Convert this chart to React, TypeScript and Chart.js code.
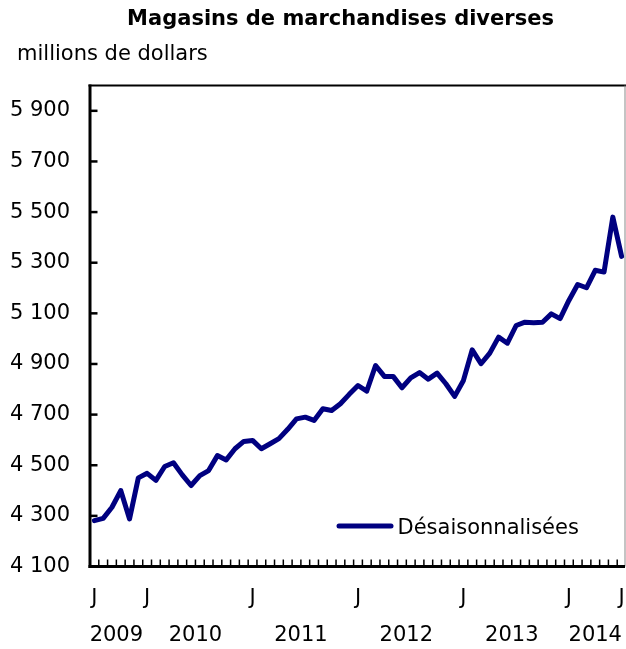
import { useEffect, useRef } from "react";
import { Chart, registerables } from "chart.js";

Chart.register(...registerables);

// ---- data ----
const chartTitle = "Magasins de marchandises diverses";
const unitLabel = "millions de dollars";
const seriesLabel = "Désaisonnalisées";

const categories = [
  "2009-07", "2009-08", "2009-09", "2009-10", "2009-11", "2009-12",
  "2010-01", "2010-02", "2010-03", "2010-04", "2010-05", "2010-06",
  "2010-07", "2010-08", "2010-09", "2010-10", "2010-11", "2010-12",
  "2011-01", "2011-02", "2011-03", "2011-04", "2011-05", "2011-06",
  "2011-07", "2011-08", "2011-09", "2011-10", "2011-11", "2011-12",
  "2012-01", "2012-02", "2012-03", "2012-04", "2012-05", "2012-06",
  "2012-07", "2012-08", "2012-09", "2012-10", "2012-11", "2012-12",
  "2013-01", "2013-02", "2013-03", "2013-04", "2013-05", "2013-06",
  "2013-07", "2013-08", "2013-09", "2013-10", "2013-11", "2013-12",
  "2014-01", "2014-02", "2014-03", "2014-04", "2014-05", "2014-06",
  "2014-07",
];

const seasonallyAdjusted = [
  4281, 4290, 4334, 4400, 4288, 4450,
  4468, 4440, 4495, 4510, 4462, 4420,
  4459, 4479, 4538, 4521, 4565, 4594,
  4598, 4565, 4585, 4605, 4642, 4683,
  4690, 4677, 4723, 4716, 4743, 4780,
  4815, 4793, 4894, 4851, 4851, 4806,
  4845, 4866, 4840, 4864, 4822, 4772,
  4835, 4956, 4901, 4943, 5006, 4982,
  5052, 5065, 5063, 5065, 5098, 5079,
  5151, 5214, 5201, 5270, 5263, 5480,
  5325,
];

const yTicks = [4100, 4300, 4500, 4700, 4900, 5100, 5300, 5500, 5700, 5900];
const yMin = 4100;
const yMax = 6000;

const monthInitials = ["J", "F", "M", "A", "M", "J", "J", "A", "S", "O", "N", "D"];
const labeledMonths = ["2009-07", "2010-01", "2011-01", "2012-01", "2013-01", "2014-01", "2014-07"];
const years = ["2009", "2010", "2011", "2012", "2013", "2014"];

// ---- style ----
const FONT = "'DejaVu Sans', Verdana, sans-serif";
const NAVY = "#000080";
const W = 626;
const H = 649;

const fmtThousands = (v: number) => String(v).replace(/\B(?=(\d{3})+(?!\d))/g, " ");

export default function App() {
  const canvasRef = useRef<HTMLCanvasElement | null>(null);

  useEffect(() => {
    document.body.style.margin = "0";
    const canvas = canvasRef.current;
    if (!canvas) return;

    const yearCenters = years.map((y) => {
      const idx = categories.map((c, i) => (c.startsWith(y) ? i : -1)).filter((i) => i >= 0);
      return (idx[0] + idx[idx.length - 1]) / 2;
    });

    const decorPlugin = {
      id: "decor",
      afterDraw(chart: any) {
        const { ctx, chartArea: a, scales } = chart;
        const xs = scales.x;
        const ys = scales.y;
        ctx.save();

        // titles
        ctx.fillStyle = "#000";
        ctx.textBaseline = "alphabetic";
        ctx.font = `bold 21px ${FONT}`;
        ctx.textAlign = "center";
        ctx.fillText(chartTitle, 340.5, 25);
        ctx.font = `21px ${FONT}`;
        ctx.textAlign = "left";
        ctx.fillText(unitLabel, 17, 60);

        // frame: top (black) & right (gray)
        ctx.fillStyle = "#000";
        ctx.fillRect(a.left - 1.5, a.top - 1, a.right - a.left + 1.5, 2);
        ctx.fillStyle = "#8a8a8a";
        ctx.fillRect(a.right - 1.5, a.top, 1, a.bottom - a.top);

        // left & bottom axes (thick)
        ctx.fillStyle = "#000";
        ctx.fillRect(a.left - 1.5, a.top - 1, 3, a.bottom - a.top + 2.5);
        ctx.fillRect(a.left - 1.5, a.bottom - 1.5, a.right - a.left + 0.5, 3);

        // y ticks pointing inward
        ctx.strokeStyle = "#000";
        ctx.lineWidth = 2.5;
        yTicks.forEach((v) => {
          const py = ys.getPixelForValue(v);
          ctx.beginPath();
          ctx.moveTo(a.left, py);
          ctx.lineTo(a.left + 7.5, py);
          ctx.stroke();
        });

        // monthly ticks at month boundaries, pointing up
        ctx.lineWidth = 1.5;
        for (let i = 0; i < categories.length - 1; i++) {
          const px = (xs.getPixelForValue(i) + xs.getPixelForValue(i + 1)) / 2;
          ctx.beginPath();
          ctx.moveTo(px, a.bottom);
          ctx.lineTo(px, a.bottom - 7);
          ctx.stroke();
        }

        // legend inside plot area
        const ds = chart.data.datasets[0];
        const lx0 = a.right - 289;
        const lx1 = a.right - 233;
        const ly = a.bottom - 40.5;
        ctx.strokeStyle = ds.borderColor;
        ctx.lineWidth = 5;
        ctx.lineCap = "round";
        ctx.beginPath();
        ctx.moveTo(lx0 + 2, ly);
        ctx.lineTo(lx1 - 2, ly);
        ctx.stroke();
        ctx.fillStyle = "#000";
        ctx.font = `21px ${FONT}`;
        ctx.textAlign = "left";
        ctx.textBaseline = "alphabetic";
        ctx.fillText(ds.label, lx1 + 4.5, ly + 7.5);

        ctx.restore();
      },
    };

    const tickFont = { family: FONT, size: 21 };

    const chart = new Chart(canvas, {
      type: "line",
      data: {
        labels: categories,
        datasets: [
          {
            label: seriesLabel,
            data: seasonallyAdjusted,
            borderColor: NAVY,
            backgroundColor: NAVY,
            borderWidth: 5,
            pointRadius: 0,
            tension: 0,
            borderJoinStyle: "round",
            borderCapStyle: "round",
            fill: false,
          },
        ],
      },
      options: {
        responsive: false,
        animation: false,
        layout: { padding: { top: 85.5, left: 0, right: 0, bottom: 0 } },
        plugins: {
          legend: { display: false },
          title: { display: false },
          tooltip: { enabled: false },
        },
        scales: {
          x: {
            type: "category",
            position: "bottom",
            offset: true,
            weight: 0,
            grid: { display: false, drawTicks: true, tickLength: 19 },
            border: { display: false },
            ticks: {
              autoSkip: false,
              maxRotation: 0,
              minRotation: 0,
              padding: 0,
              color: "#000",
              font: tickFont,
              callback: (_v: any, i: number) =>
                labeledMonths.includes(categories[i])
                  ? monthInitials[Number(categories[i].slice(5)) - 1]
                  : "",
            },
            afterFit: (s: any) => {
              s.height = 45;
            },
          },
          x2: {
            type: "linear",
            position: "bottom",
            weight: 1,
            min: -0.5,
            max: categories.length - 0.5,
            grid: { display: false, drawTicks: true, tickLength: 11 },
            border: { display: false },
            afterBuildTicks: (s: any) => {
              s.ticks = yearCenters.map((v) => ({ value: v }));
            },
            ticks: {
              autoSkip: false,
              maxRotation: 0,
              minRotation: 0,
              padding: 0,
              color: "#000",
              font: tickFont,
              callback: (v: any) => {
                const k = yearCenters.indexOf(Number(v));
                return k >= 0 ? years[k] : "";
              },
            },
            afterFit: (s: any) => {
              s.height = H - 566.5 - 45;
            },
          },
          y: {
            type: "linear",
            position: "left",
            min: yMin,
            max: yMax,
            grid: { display: false, drawTicks: false },
            border: { display: false },
            afterBuildTicks: (s: any) => {
              s.ticks = yTicks.map((v) => ({ value: v }));
            },
            ticks: {
              padding: 20,
              color: "#000",
              font: tickFont,
              callback: (v: any) => fmtThousands(Number(v)),
            },
            afterFit: (s: any) => {
              s.width = 90;
            },
          },
        },
      },
      plugins: [decorPlugin],
    } as any);

    return () => chart.destroy();
  }, []);

  return (
    <div style={{ width: W, height: H, background: "#fff" }}>
      <canvas ref={canvasRef} width={W} height={H} style={{ display: "block" }} />
    </div>
  );
}
